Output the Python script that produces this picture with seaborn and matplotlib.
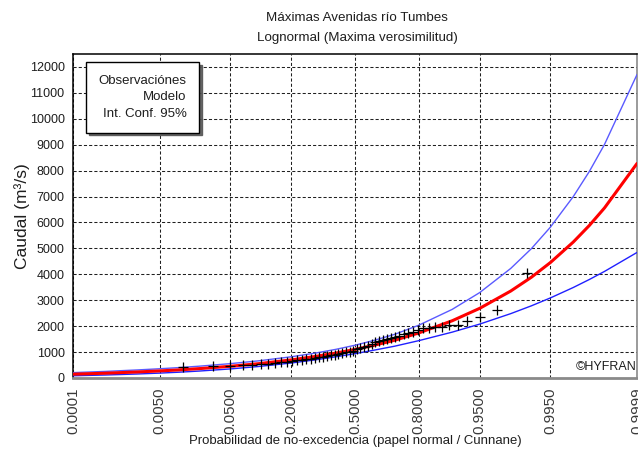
from statistics import NormalDist

import numpy as np
import matplotlib
matplotlib.use("Agg")
import matplotlib.pyplot as plt
from matplotlib import font_manager
from matplotlib.lines import Line2D
from matplotlib.ticker import FixedLocator, FixedFormatter, MultipleLocator
import seaborn as sns

# Probabilidades de no-excedencia en las que se evalúan modelo e intervalo
prob_curve = [0.0001, 0.0005, 0.001, 0.002, 0.005, 0.01, 0.02, 0.05, 0.1, 0.2,
              0.3, 0.4, 0.5, 0.6, 0.7, 0.8, 0.9, 0.95, 0.98, 0.99, 0.995,
              0.998, 0.999, 0.9995, 0.9999]
# Caudal del modelo lognormal (m3/s)
q_model = [147, 185, 208, 232, 273, 312, 362, 452, 550, 698, 830, 961, 1102,
           1264, 1457, 1739, 2208, 2688, 3355, 3888, 4452, 5244, 5884, 6562,
           8275]
# Límites del intervalo de confianza al 95 %
q_upper = [208, 254, 282, 310, 357, 401, 456, 554, 659, 818, 960, 1105, 1264,
           1453, 1686, 2037, 2647, 3296, 4227, 4991, 5816, 6997, 7968, 9012,
           11707]
q_lower = [86, 116, 134, 154, 189, 223, 268, 350, 441, 578, 700, 817, 940,
           1075, 1228, 1441, 1769, 2080, 2483, 2785, 3088, 3491, 3800, 4112,
           4843]

# Caudales máximos anuales observados, ordenados de menor a mayor (m3/s)
q_obs = [430, 470, 480, 490, 510, 530, 555, 580, 605, 630, 655, 680, 705, 725,
         750, 775, 800, 825, 850, 875, 900, 925, 955, 985, 1015, 1050, 1100,
         1140, 1190, 1250, 1310, 1370, 1420, 1460, 1500, 1540, 1580, 1620,
         1680, 1730, 1780, 1850, 1910, 1910, 1950, 1970, 2040, 2040, 2200,
         2360, 2640, 4060]

x_ticks = [0.0001, 0.005, 0.05, 0.2, 0.5, 0.8, 0.95, 0.995, 0.9999]
x_tick_labels = ["0.0001", "0.0050", "0.0500", "0.2000", "0.5000", "0.8000",
                 "0.9500", "0.9950", "0.9999"]
y_ticks = list(range(0, 12001, 1000))

title_1 = "Máximas Avenidas río Tumbes"
title_2 = "Lognormal (Maxima verosimilitud)"
x_label = "Probabilidad de no-excedencia (papel normal / Cunnane)"
y_label = "Caudal (m³/s)"
legend_labels = ["Observaciónes", "Modelo", "Int. Conf. 95%"]

# Posiciones de graficación de Cunnane
n = len(q_obs)
p_obs = [(i - 0.4) / (n + 0.2) for i in range(1, n + 1)]

sns.set_style("white")
available = {f.name for f in font_manager.fontManager.ttflist}
if "Liberation Sans Narrow" in available:
    narrow, k = "Liberation Sans Narrow", 1.0
else:
    narrow, k = "Liberation Sans", 0.86
plt.rcParams["font.family"] = [narrow, "DejaVu Sans"]

TXT = "#1e1e1e"

# Escala de papel normal: probabilidad -> variable normal estándar
_nd = NormalDist()
_ppf = np.vectorize(_nd.inv_cdf, otypes=[float])
_cdf = np.vectorize(_nd.cdf, otypes=[float])


def prob_to_z(p):
    p = np.clip(np.asarray(p, dtype=float), 1e-12, 1 - 1e-12)
    return _ppf(p)


def z_to_prob(z):
    return _cdf(np.asarray(z, dtype=float))


W, H = 638, 450
fig = plt.figure(figsize=(W / 100, H / 100), dpi=100)
ax = fig.add_axes([73 / W, 72 / H, 564 / W, 324 / H])
ax.set_xscale("function", functions=(prob_to_z, z_to_prob))

sns.lineplot(x=prob_curve, y=q_upper, ax=ax, color="#5a5aff", linewidth=1.0,
             estimator=None, zorder=3)
sns.lineplot(x=prob_curve, y=q_lower, ax=ax, color="#2020ff", linewidth=1.0,
             estimator=None, zorder=3)
sns.lineplot(x=prob_curve, y=q_model, ax=ax, color="#ff0000", linewidth=2.2,
             estimator=None, zorder=4)
sns.scatterplot(x=p_obs, y=q_obs, ax=ax, marker="+", color="black", s=62,
                linewidth=0.9, zorder=5)

ax.set_xlim(0.0001, 0.9999)
ax.set_ylim(0, 12500)

ax.xaxis.set_major_locator(FixedLocator(x_ticks))
ax.xaxis.set_major_formatter(FixedFormatter(x_tick_labels))
ax.xaxis.set_minor_locator(FixedLocator([]))
ax.yaxis.set_major_locator(FixedLocator(y_ticks))
ax.yaxis.set_minor_locator(MultipleLocator(500))

ax.tick_params(axis="x", which="major", direction="out", length=5, width=1,
               color="#404040", labelrotation=90, labelsize=10.8,
               labelcolor="#3a3a3a", pad=2)
for lab in ax.get_xticklabels():
    lab.set_family(["Liberation Sans", "DejaVu Sans"])
ax.tick_params(axis="y", which="major", direction="out", length=4, width=1,
               color="black", labelsize=10.5 * k, labelcolor=TXT, pad=2)
ax.tick_params(axis="y", which="minor", direction="out", length=2.5,
               width=0.8, color="black")

ax.grid(True, which="major", color="#202020", linestyle=(0, (3, 2)),
        linewidth=0.75, zorder=0)
ax.set_axisbelow(True)

for side in ("left", "top"):
    ax.spines[side].set_color("black")
    ax.spines[side].set_linewidth(1.1)
ax.spines["bottom"].set_color("#8a8a8a")
ax.spines["bottom"].set_linewidth(2.0)
ax.spines["right"].set_color("#8a8a8a")
ax.spines["right"].set_linewidth(1.2)

ax.set_xlabel(x_label, fontsize=10.3 * k + 0.6, color=TXT)
ax.xaxis.set_label_coords(0.5, -0.175)
ax.set_ylabel(y_label, fontsize=12.5, color=TXT,
              family=["Liberation Sans", "DejaVu Sans"])
ax.yaxis.set_label_coords(-0.076, 0.5)

fig.text(357 / W, 1 - 18 / H, title_1, ha="center", va="center",
         fontsize=10.3 * k + 0.8, color=TXT)
fig.text(357 / W, 1 - 38 / H, title_2, ha="center", va="center",
         fontsize=10.3 * k + 0.8, color=TXT)

handles = [Line2D([], [], linestyle="none") for _ in legend_labels]
leg = ax.legend(handles, legend_labels, loc="upper left",
                bbox_to_anchor=(0.023, 0.975), borderaxespad=0,
                markerfirst=False, handlelength=0, handletextpad=0,
                fancybox=False, shadow={"color": "#555555", "alpha": 0.9},
                frameon=True, edgecolor="black", framealpha=1,
                prop={"family": [narrow, "DejaVu Sans"], "size": 10.5 * k + 0.5},
                borderpad=0.95, labelspacing=0.32)
leg.get_frame().set_linewidth(1.0)
for t in leg.get_texts():
    t.set_color(TXT)

ax.text(0.999, 0.035, "©HYFRAN", transform=ax.transAxes, ha="right",
        va="center", fontsize=10.5 * k, color=TXT)

fig.savefig("out.png", dpi=100)
